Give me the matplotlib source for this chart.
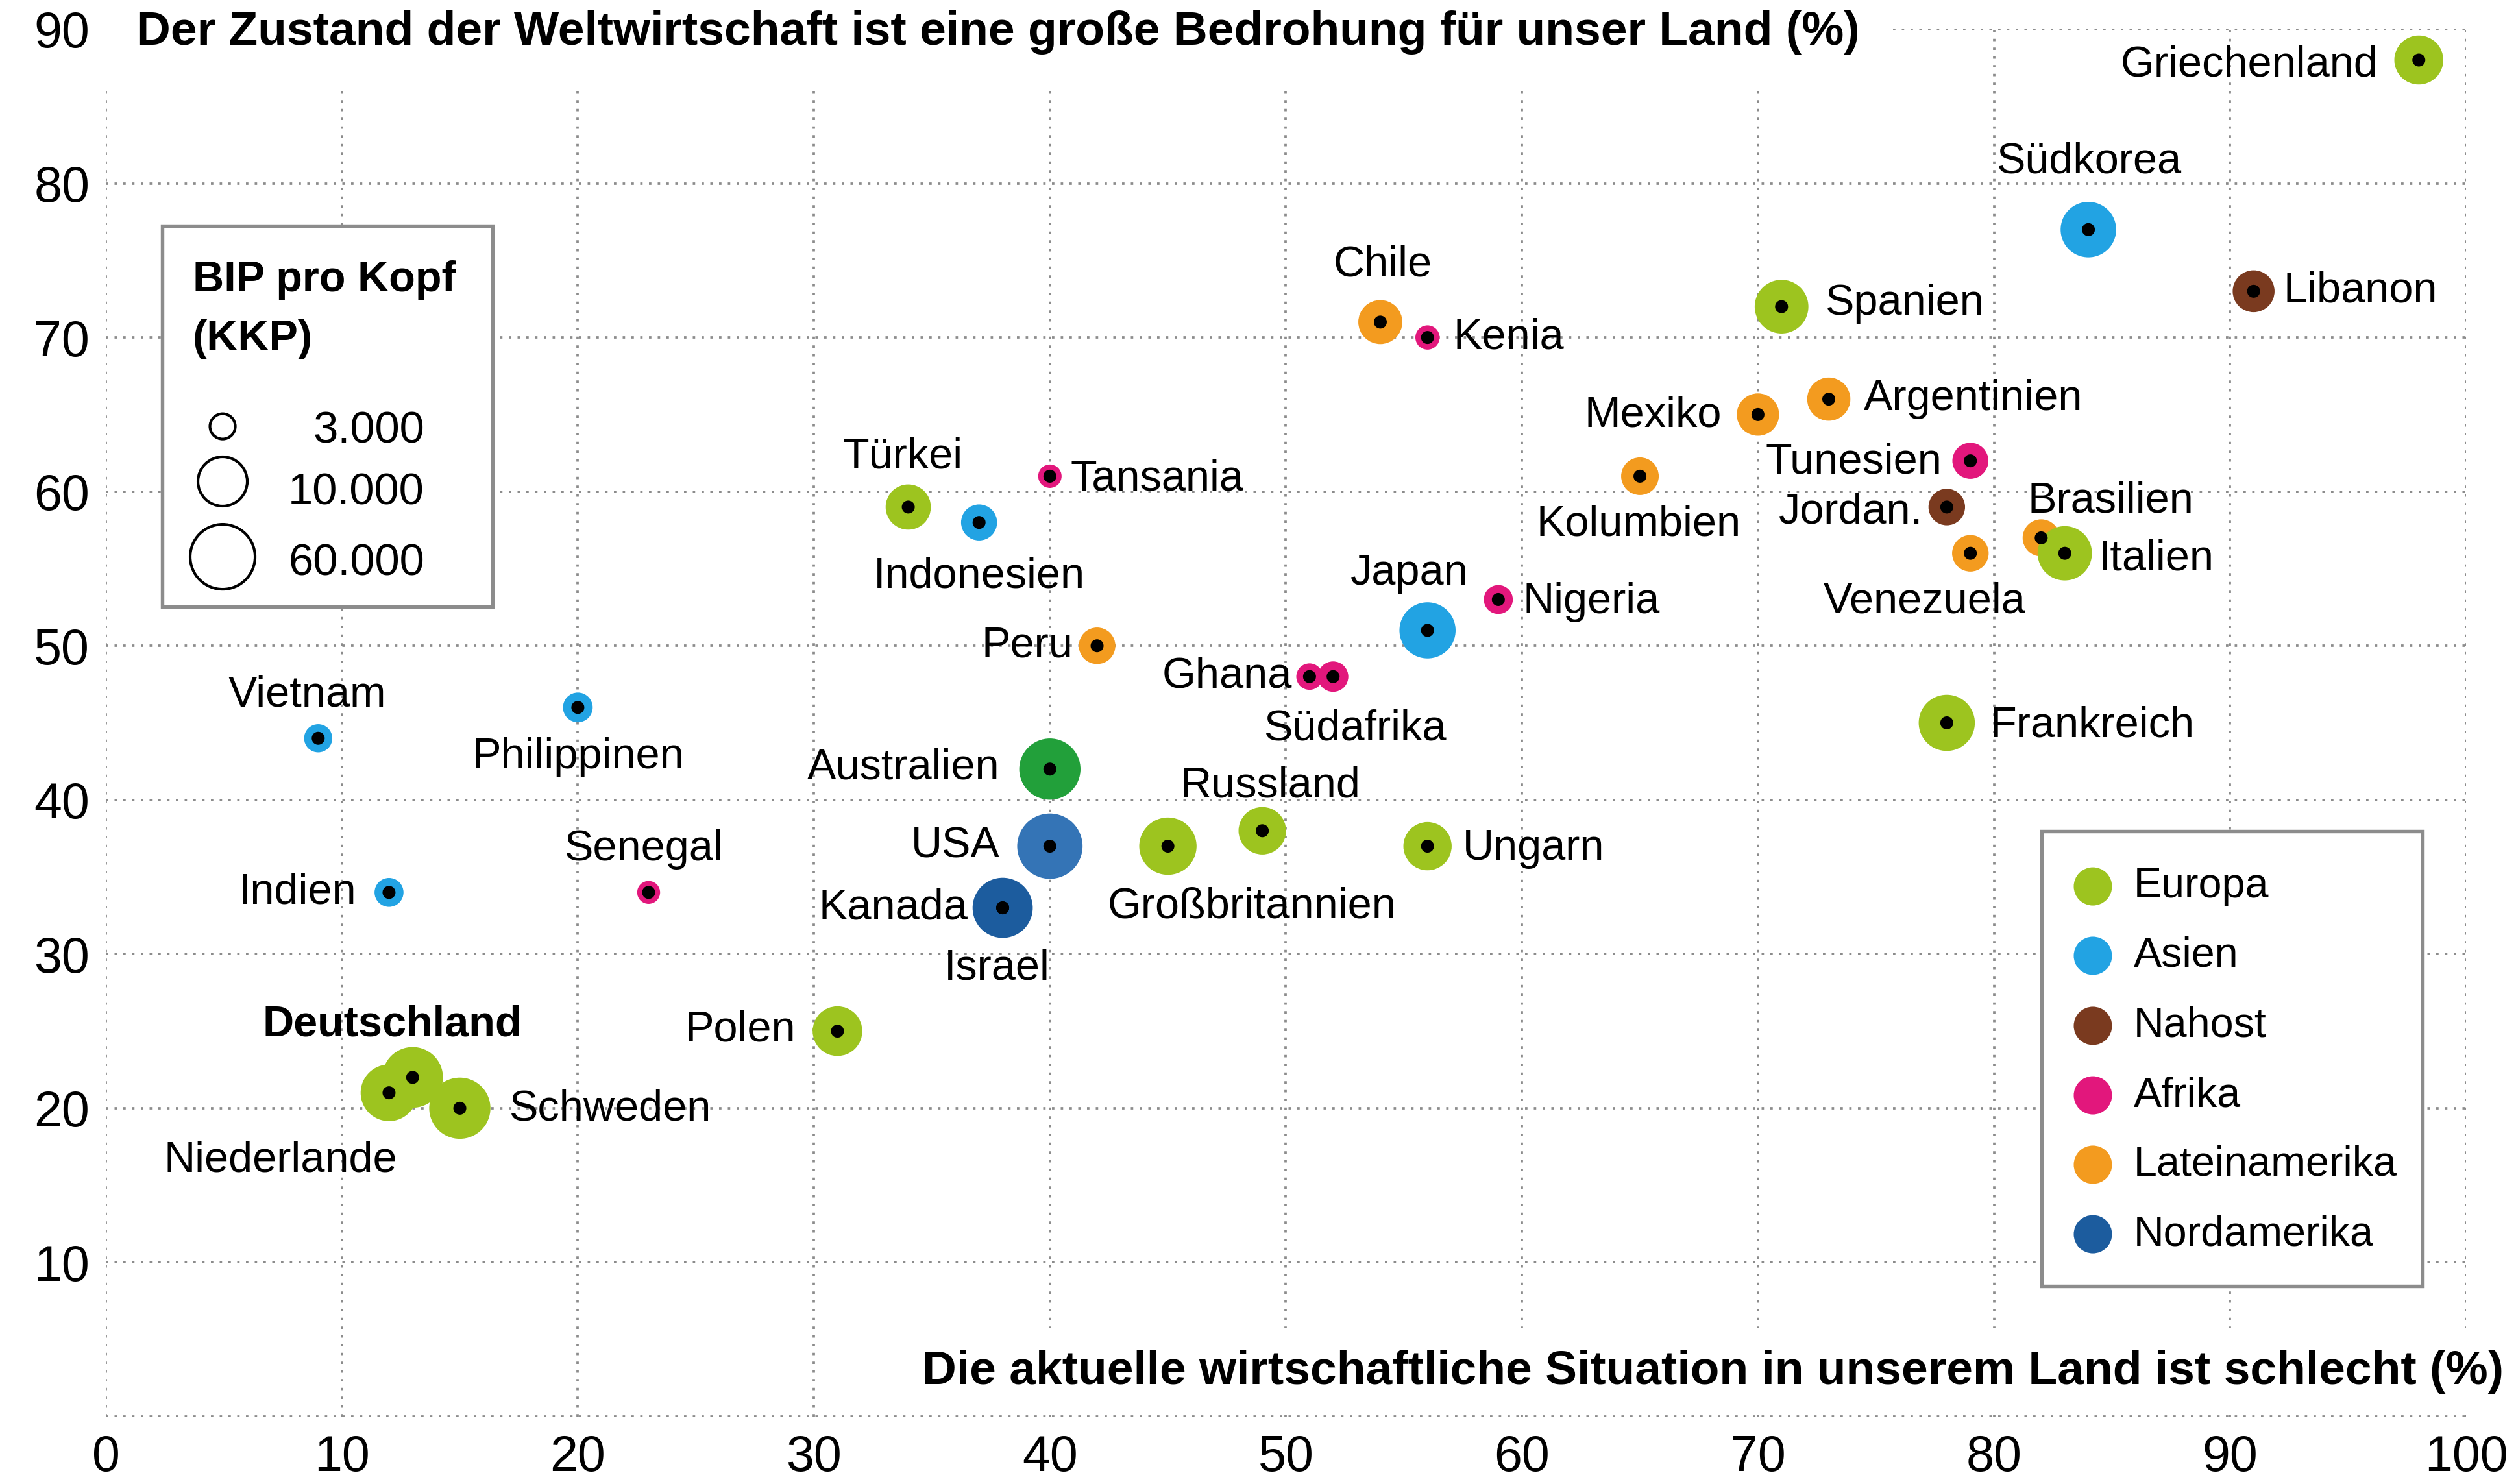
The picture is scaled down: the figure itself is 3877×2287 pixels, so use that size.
import matplotlib.pyplot as plt
import numpy as np

plt.rcParams['font.family'] = ['Liberation Sans', 'DejaVu Sans']

# Pew-Umfrage: Lage im eigenen Land vs. Weltwirtschaft als Bedrohung
laender = ['Griechenland', 'Südkorea', 'Libanon', 'Spanien', 'Chile', 'Kenia',
           'Argentinien', 'Mexiko', 'Tunesien', 'Kolumbien', 'Jordan.', 'Brasilien',
           'Italien', 'Venezuela', 'Tansania', 'Türkei', 'Indonesien', 'Japan',
           'Nigeria', 'Peru', 'Ghana', 'Südafrika', 'Vietnam', 'Philippinen',
           'Australien', 'Frankreich', 'Russland', 'Großbritannien', 'USA', 'Ungarn',
           'Indien', 'Senegal', 'Israel', 'Kanada', 'Polen', 'Niederlande',
           'Deutschland', 'Schweden']
situation_schlecht = [98, 84, 91, 71, 54, 56, 73, 70, 79, 65, 78, 82, 83, 79, 40, 34,
                      37, 56, 59, 42, 51, 52, 9, 20, 40, 78, 49, 45, 40, 56, 12, 23,
                      38, 38, 31, 12, 13, 15]
bedrohung = [88, 77, 73, 72, 71, 70, 66, 65, 62, 61, 59, 57, 56, 56, 61, 59, 58, 51,
             53, 50, 48, 48, 44, 46, 42, 45, 38, 37, 37, 37, 34, 34, 33, 33, 25, 21,
             22, 20]
region = ['Europa', 'Asien', 'Nahost', 'Europa', 'Lateinamerika', 'Afrika',
          'Lateinamerika', 'Lateinamerika', 'Afrika', 'Lateinamerika', 'Nahost',
          'Lateinamerika', 'Europa', 'Lateinamerika', 'Afrika', 'Europa', 'Asien',
          'Asien', 'Afrika', 'Lateinamerika', 'Afrika', 'Afrika', 'Asien', 'Asien',
          'Ozeanien', 'Europa', 'Europa', 'Europa', 'Nordamerika', 'Europa', 'Asien',
          'Afrika', 'Nahost', 'Nordamerika', 'Europa', 'Europa', 'Europa', 'Europa']
bip_pro_kopf = [26000, 36000, 17000, 33000, 19500, 2900, 18500, 17500, 11000, 12500,
                11500, 12000, 34000, 11500, 2500, 21000, 11000, 37000, 5500, 11500,
                4000, 6500, 5000, 6000, 46000, 37000, 24000, 39000, 54000, 25000,
                5500, 2300, 33000, 44000, 27000, 38000, 45000, 46000]

regionen = ['Europa', 'Asien', 'Nahost', 'Afrika', 'Lateinamerika', 'Nordamerika']
legende_bip = [3000, 10000, 60000]
legende_bip_text = ['3.000', '10.000', '60.000']

farben = {'Europa': '#9DC41F', 'Asien': '#22A3E3', 'Nahost': '#7A3A1F',
          'Afrika': '#E2177C', 'Lateinamerika': '#F39B1F', 'Nordamerika': '#1C5C9E',
          'Ozeanien': '#22A03A'}
sonderfarben = {'USA': '#3474B6'}

# Beschriftung: (dx, dy in pt, Ausrichtung)
beschriftung = {
    'Griechenland': (-15, -2, 'right'), 'Südkorea': (0, 25, 'center'),
    'Libanon': (11, 0, 'left'), 'Spanien': (16, 1, 'left'),
    'Chile': (1, 21, 'center'), 'Kenia': (9.5, 0, 'left'),
    'Argentinien': (13, 0, 'left'), 'Mexiko': (-13.5, -0.5, 'right'),
    'Tunesien': (-10.5, -0.5, 'right'), 'Kolumbien': (-0.5, -18, 'center'),
    'Jordan.': (-9, -2, 'right'), 'Brasilien': (-5, 13.5, 'left'),
    'Italien': (12.5, -2, 'left'), 'Venezuela': (-17, -18, 'center'),
    'Tansania': (7.5, -1, 'left'), 'Türkei': (-2, 18.5, 'center'),
    'Indonesien': (0, -20, 'center'), 'Japan': (-7, 21, 'center'),
    'Nigeria': (9, -1, 'left'), 'Peru': (-9, 0, 'right'),
    'Ghana': (-6.5, 0, 'right'), 'Südafrika': (8, -19.5, 'center'),
    'Vietnam': (-4, 16, 'center'), 'Philippinen': (0, -18.5, 'center'),
    'Australien': (-18.5, 0.5, 'right'), 'Frankreich': (16, -1, 'left'),
    'Russland': (3, 16.5, 'center'), 'Großbritannien': (31, -22.5, 'center'),
    'USA': (-18.5, 0, 'right'), 'Ungarn': (13, -1, 'left'),
    'Indien': (-12, 0, 'right'), 'Senegal': (-2, 16, 'center'),
    'Israel': (-2, -22.5, 'center'), 'Kanada': (-13, 0, 'right'),
    'Polen': (-15.5, 0.5, 'right'), 'Niederlande': (-40, -25, 'center'),
    'Deutschland': (-7.5, 19.5, 'center'), 'Schweden': (18, -0.5, 'left'),
}

PX = 72 / 300  # Pixel (300 dpi) in pt


def kreis_s(bip):
    d_px = 1.06 * (17.3 + 0.3344 * np.sqrt(np.asarray(bip, dtype=float)))
    return (d_px * PX) ** 2


fig = plt.figure(figsize=(3877 / 300, 2287 / 300), dpi=300)
ax = fig.add_axes([163 / 3877, 1 - 2183 / 2287, 3637 / 3877, 2138 / 2287])
ax.set_xlim(0, 100)
ax.set_ylim(0, 90)
for s in ax.spines.values():
    s.set_visible(False)
ax.set_xticks(range(0, 101, 10))
ax.set_yticks(range(0, 91, 10))
ax.set_yticklabels([''] + [str(v) for v in range(10, 91, 10)])
ax.tick_params(length=0, labelsize=18.5, pad=6)
ax.tick_params(axis='x', pad=6.5)
ax.grid(True, color='#8c8c8c', linewidth=0.9, linestyle=(0, (1, 2.6)))
ax.set_axisbelow(True)

x = np.array(situation_schlecht)
y = np.array(bedrohung)
farbe = [sonderfarben.get(n, farben[r]) for n, r in zip(laender, region)]
groesse = kreis_s(bip_pro_kopf)

ax.scatter(x, y, s=groesse, c=farbe, edgecolors='none', zorder=3, clip_on=False)
ax.scatter(x, y, s=(20 * PX) ** 2, color='black', edgecolors='none', zorder=4,
           clip_on=False)
for i, name in enumerate(laender):
    dx, dy, ha = beschriftung[name]
    ax.annotate(name, (x[i], y[i]), xytext=(dx, dy), textcoords='offset points',
                ha=ha, va='center', fontsize=16,
                fontweight='bold' if name == 'Deutschland' else 'normal', zorder=5)

# Achsentitel im Diagramm
ax.text(0.0129, 0.9975, 'Der Zustand der Weltwirtschaft ist eine große Bedrohung für unser Land (%)',
        transform=ax.transAxes, ha='left', va='center', fontsize=17.6, fontweight='bold',
        bbox=dict(facecolor='white', edgecolor='none', pad=12), zorder=6)
ax.text(1.016, 0.0323, 'Die aktuelle wirtschaftliche Situation in unserem Land ist schlecht (%)',
        transform=ax.transAxes, ha='right', va='center', fontsize=17.6, fontweight='bold',
        bbox=dict(facecolor='white', edgecolor='none', pad=8), zorder=6, clip_on=False)

# Legende BIP pro Kopf
ax.add_patch(plt.Rectangle((0.0239, 0.5837), 0.14, 0.2746, transform=ax.transAxes,
                           facecolor='white', edgecolor='#8c8c8c', linewidth=1.3, zorder=6))
ax.text(0.0368, 0.811, 'BIP pro Kopf', transform=ax.transAxes, fontsize=16,
        fontweight='bold', va='baseline', zorder=7)
ax.text(0.0368, 0.7685, '(KKP)', transform=ax.transAxes, fontsize=16,
        fontweight='bold', va='baseline', zorder=7)
legende_d = [39, 76, 100]
legende_y = [0.7137, 0.674, 0.6197]
legende_ty = [0.702, 0.6576, 0.6062]
for d, yy, ty, t in zip(legende_d, legende_y, legende_ty, legende_bip_text):
    ax.scatter(0.0495, yy, s=(d * PX) ** 2, facecolors='none', edgecolors='black',
               linewidths=1.0, transform=ax.transAxes, zorder=7, clip_on=False)
    ax.text(0.135, ty, t, transform=ax.transAxes, ha='right', va='baseline',
            fontsize=16.5, zorder=7)

# Legende Regionen
ax.add_patch(plt.Rectangle((0.8202, 0.0940), 0.1614, 0.3279, transform=ax.transAxes,
                           facecolor='white', edgecolor='#8c8c8c', linewidth=1.3, zorder=6))
reihen_y = [0.3821, 0.3321, 0.2816, 0.2315, 0.1815, 0.1314]
for r, yy in zip(regionen, reihen_y):
    ax.scatter(0.8419, yy, s=(59 * PX) ** 2, color=farben[r], edgecolors='none',
               transform=ax.transAxes, zorder=7, clip_on=False)
    ax.text(0.8592, yy, r, transform=ax.transAxes, ha='left', va='center',
            fontsize=15.5, zorder=7)

fig.savefig('out.png', dpi=300)
